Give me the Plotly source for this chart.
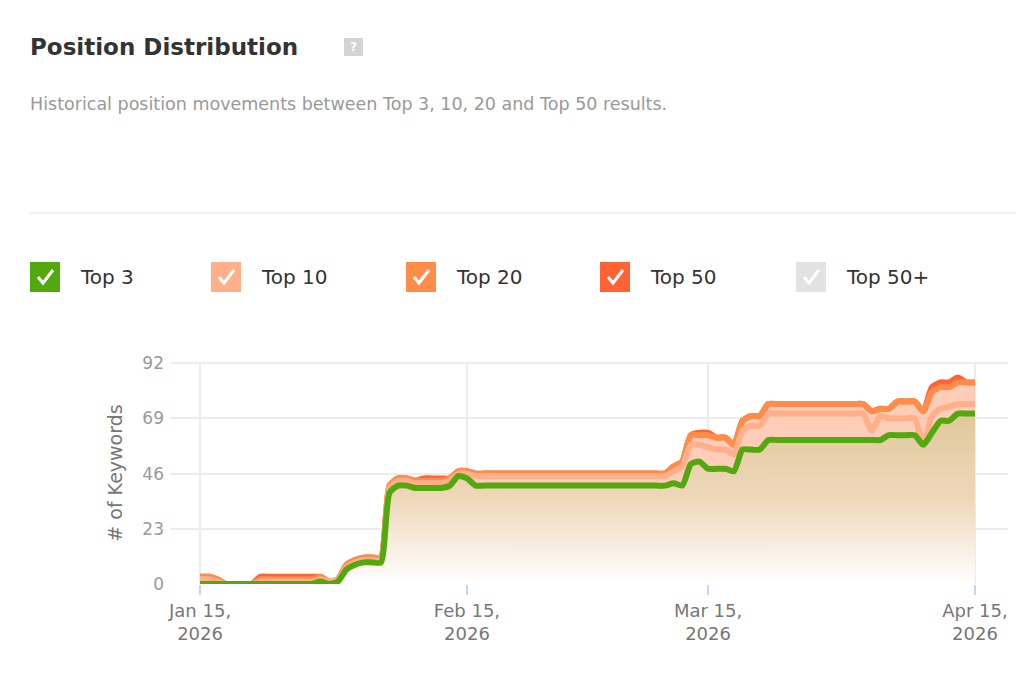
import plotly.graph_objects as go
import pandas as pd

dates = pd.date_range("2026-01-15", "2026-04-15", freq="D")

top3 = ([0]*14 + [1, 0, 1, 6, 8, 9, 9, 9, 38, 41, 41, 40, 40, 40, 40, 41, 45, 44]
        + [41]*23 + [42, 41, 50, 51, 48, 48, 48, 47, 56, 56, 56]
        + [60]*14 + [62]*4 + [58, 63, 68, 68, 71, 71, 71])
top10 = ([2, 2, 1, 0, 0, 0, 0] + [1]*7 + [2, 1, 2, 7, 9, 10, 10, 10, 40, 43, 43, 42, 42, 42, 42, 43, 46, 46]
         + [45]*23 + [47, 49, 58, 58, 57, 56, 56, 54, 64, 66, 66]
         + [71]*12 + [64, 70, 69, 69, 69, 69, 57, 70, 73, 74, 75, 75, 75])
top20 = ([3, 3, 2, 0, 0, 0, 0] + [2]*7 + [3, 1, 2, 8, 10, 11, 11, 11, 41, 44, 44, 43, 43, 43, 43, 44, 47, 47]
         + [46]*23 + [49, 51, 62, 62, 62, 61, 61, 58, 68, 70, 70]
         + [75]*12 + [72, 73, 73, 76, 76, 76, 72, 80, 82, 82, 84, 84, 84])
top50 = ([3, 3, 2, 0, 0, 0, 0] + [3]*7 + [3, 1, 2, 8, 10, 11, 11, 11, 41, 44, 44, 43, 44, 44, 44, 44, 47, 47]
         + [46]*23 + [49, 51, 62, 63, 63, 61, 61, 58, 68, 70, 70]
         + [75]*12 + [72, 73, 73, 76, 76, 76, 72, 82, 84, 84, 86, 84, 84])

tick_vals = ["2026-01-15", "2026-02-15", "2026-03-15", "2026-04-15"]
tick_text = ["Jan 15,<br>2026", "Feb 15,<br>2026", "Mar 15,<br>2026", "Apr 15,<br>2026"]
y_ticks = [0, 23, 46, 69, 92]

legend_names = ["Top 3", "Top 10", "Top 20", "Top 50", "Top 50+"]
legend_colors = ["#52a80c", "#ffb08a", "#ff8c48", "#ff6335", "#e2e2e2"]
legend_x = [22, 203, 398, 592, 788]

FONT = "DejaVu Sans"
W, H = 1024, 694
L, R, T, B = 163, 24, 354, 118
PW, PH = W - L - R, H - T - B

def fx(x):
    return (x - L) / PW

def fy(y):
    return (H - B - y) / PH

fig = go.Figure()
line_shape = dict(shape="spline", smoothing=0.6, width=6)

fig.add_trace(go.Scatter(x=dates, y=top50, mode="lines", name="Top 50",
                         line=dict(color="#ff6335", **line_shape),
                         fill="tozeroy", fillcolor="rgba(255,150,110,0.35)"))
fig.add_trace(go.Scatter(x=dates, y=top20, mode="lines", name="Top 20",
                         line=dict(color="#ff8c48", **line_shape),
                         fill="tozeroy", fillcolor="rgba(255,190,160,0.5)"))
fig.add_trace(go.Scatter(x=dates, y=top10, mode="lines", name="Top 10",
                         line=dict(color="#ffb08a", **line_shape),
                         fill="tozeroy", fillcolor="rgba(255,205,185,0.9)"))
fig.add_trace(go.Scatter(x=dates, y=top3, mode="lines", name="Top 3",
                         line=dict(color="#52a80c", **line_shape),
                         fill="tozeroy",
                         fillgradient=dict(type="vertical",
                                           colorscale=[[0, "rgba(255,255,255,1)"],
                                                       [0.5, "rgba(238,216,186,1)"],
                                                       [1, "rgba(224,200,154,1)"]])))

shapes = []
annotations = []

shapes.append(dict(type="line", xref="paper", yref="paper",
                   x0=fx(22), x1=fx(1020), y0=fy(205), y1=fy(205),
                   line=dict(color="#ececec", width=1.5)))
shapes.append(dict(type="rect", xref="paper", yref="paper",
                   x0=fx(336), x1=fx(355), y0=fy(48), y1=fy(30),
                   fillcolor="#d4d4d4", line=dict(width=0)))
annotations.append(dict(text="<b>?</b>", xref="paper", yref="paper",
                        x=fx(345.5), y=fy(39), xanchor="center", yanchor="middle", showarrow=False,
                        font=dict(family=FONT, size=12, color="white")))
annotations.append(dict(text="<b>Position Distribution</b>", xref="paper", yref="paper",
                        x=fx(20), y=fy(39), xanchor="left", yanchor="middle", showarrow=False,
                        font=dict(family=FONT, size=23, color="#333")))
annotations.append(dict(text="Historical position movements between Top 3, 10, 20 and Top 50 results.",
                        xref="paper", yref="paper",
                        x=fx(20), y=fy(96), xanchor="left", yanchor="middle", showarrow=False,
                        font=dict(family=FONT, size=17.5, color="#999")))
for name, col, lx in zip(legend_names, legend_colors, legend_x):
    shapes.append(dict(type="rect", xref="paper", yref="paper",
                       x0=fx(lx), x1=fx(lx + 30), y0=fy(284), y1=fy(254),
                       fillcolor=col, line=dict(width=0)))
    shapes.append(dict(type="path", xref="paper", yref="paper",
                       path=f"M {fx(lx+8)} {fy(269)} L {fx(lx+13)} {fy(275)} L {fx(lx+23)} {fy(262)}",
                       line=dict(color="white", width=3)))
    annotations.append(dict(text=name, xref="paper", yref="paper",
                            x=fx(lx + 48), y=fy(269), xanchor="left", yanchor="middle", showarrow=False,
                            font=dict(family=FONT, size=20, color="#333")))

fig.update_layout(
    width=W, height=H, showlegend=False,
    margin=dict(l=L, r=R, t=T, b=B, autoexpand=False),
    paper_bgcolor="white", plot_bgcolor="white",
    font=dict(family=FONT, color="#999"),
    shapes=shapes, annotations=annotations,
    xaxis=dict(range=["2026-01-11 15:00", "2026-04-18 20:00"], tickvals=tick_vals,
               ticktext=tick_text, showgrid=True, gridcolor="#ececec", gridwidth=1.5,
               ticks="outside", ticklen=10, tickcolor="#c8d4ee", tickwidth=1.5,
               tickfont=dict(size=18, color="#777"), zeroline=False, showline=False,
               automargin=False),
    yaxis=dict(range=[0, 92.5], tickvals=y_ticks, showgrid=True, gridcolor="#ececec",
               gridwidth=1.5, zeroline=False, tickfont=dict(size=17, color="#999"),
               title=dict(text="# of Keywords", font=dict(size=19, color="#777"), standoff=14),
               ticklabelstandoff=6, automargin=False),
)
fig.write_html("out.html")
